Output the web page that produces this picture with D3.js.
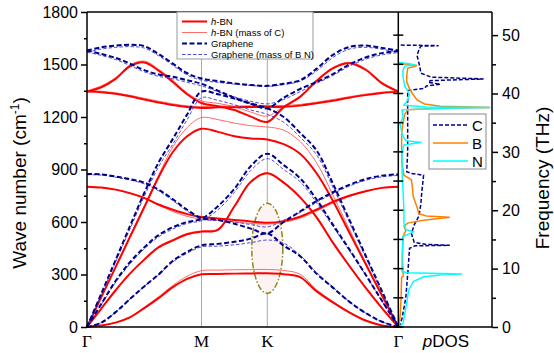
<!DOCTYPE html>
<html>
<head>
<meta charset="utf-8">
<script src="https://cdn.jsdelivr.net/npm/d3@7"></script>
<style>
  body { margin: 0; background: #fff; }
  svg { display: block; }
  text { font-family: "Liberation Sans", Arial, sans-serif; }
</style>
</head>
<body>
<svg id="chart" width="554" height="353"></svg>
<script>
// path coordinate along Γ-M-K-Γ (ΓM = 1)
const kPts = [0, 0.125, 0.25, 0.375, 0.5, 0.625, 0.75, 0.875, 1,
  1.144, 1.289, 1.433, 1.577,
  1.721, 1.866, 2.010, 2.155, 2.299, 2.443, 2.588, 2.732]
const kLabels = ['Γ', 'M', 'K', 'Γ']
const kLabelPos = [0, 1, 1.577, 2.732]

// h-BN (cm-1)
const bnZA = [0, 8, 25, 55, 108, 165, 228, 275, 301, 303, 305, 306, 307, 302, 285, 205, 141, 84, 37, 9, 0]
const bnTA = [0, 105, 210, 305, 385, 455, 495, 530, 545, 555, 690, 830, 878, 825, 741, 628, 482, 350, 225, 108, 0]
const bnZO = [802, 797, 785, 765, 738, 700, 670, 645, 628, 620, 612, 603, 596, 605, 630, 670, 715, 750, 776, 795, 802]
const bnLA = [0, 171, 342, 514, 684, 856, 1000, 1090, 1133, 1115, 1090, 1077, 1072, 1045, 990, 880, 722, 541, 361, 180, 0]
const bnLO = [1345, 1370, 1418, 1490, 1512, 1465, 1400, 1330, 1280, 1262, 1240, 1202, 1172, 1255, 1315, 1405, 1478, 1507, 1470, 1392, 1345]
const bnTO = [1345, 1342, 1333, 1318, 1300, 1283, 1268, 1257, 1252, 1255, 1256, 1257, 1258, 1258, 1265, 1278, 1293, 1310, 1325, 1337, 1345]

// h-BN with the mass of C
const bnZAc = [0, 8, 26, 58, 112, 173, 238, 290, 322, 325, 327, 328, 329, 323, 302, 214, 146, 86, 38, 9, 0]
const bnTAc = [0, 106, 212, 308, 389, 460, 500, 535, 550, 560, 693, 832, 880, 827, 744, 632, 486, 353, 228, 110, 0]
const bnZOc = [802, 797, 785, 763, 735, 695, 660, 632, 617, 610, 600, 592, 588, 598, 622, 662, 708, 745, 773, 794, 802]
const bnLAc = [0, 173, 346, 520, 692, 866, 1030, 1140, 1197, 1185, 1165, 1150, 1143, 1125, 1060, 940, 755, 560, 370, 185, 0]
const bnLOc = [1350, 1378, 1425, 1497, 1520, 1473, 1410, 1338, 1292, 1278, 1258, 1228, 1205, 1262, 1320, 1410, 1483, 1513, 1477, 1398, 1350]
const bnTOc = [1350, 1347, 1338, 1324, 1307, 1290, 1275, 1264, 1260, 1262, 1263, 1264, 1266, 1266, 1272, 1285, 1300, 1316, 1331, 1342, 1350]

// graphene
const grZA = [0, 25, 85, 160, 232, 300, 378, 430, 466, 475, 487, 505, 535, 465, 405, 305, 225, 145, 80, 30, 0]
const grTA = [0, 132, 263, 370, 455, 525, 570, 600, 618, 690, 790, 920, 990, 925, 850, 730, 585, 445, 300, 150, 0]
const grZO = [874, 872, 860, 845, 825, 785, 730, 670, 622, 612, 590, 562, 535, 600, 660, 720, 770, 812, 845, 865, 872]
const grLA = [0, 191, 383, 576, 766, 940, 1075, 1215, 1345, 1330, 1305, 1278, 1250, 1200, 1110, 1010, 820, 615, 410, 205, 0]
const grLO = [1580, 1560, 1538, 1505, 1468, 1443, 1430, 1410, 1390, 1350, 1310, 1275, 1250, 1310, 1360, 1400, 1445, 1500, 1540, 1565, 1577]
const grTO = [1580, 1598, 1608, 1613, 1605, 1560, 1505, 1450, 1420, 1405, 1392, 1383, 1378, 1390, 1410, 1475, 1555, 1600, 1608, 1595, 1580]

// graphene with the masses of B and N
const grZAb = [0, 25, 85, 160, 232, 298, 372, 422, 458, 462, 470, 482, 497, 480, 410, 312, 228, 146, 80, 30, 0]
const grTAb = [0, 128, 255, 360, 446, 515, 560, 592, 608, 670, 770, 895, 962, 900, 830, 712, 575, 438, 298, 148, 0]
const grZOb = [870, 868, 856, 840, 818, 778, 722, 662, 615, 610, 600, 585, 572, 610, 655, 712, 762, 805, 838, 858, 866]
const grLAb = [0, 186, 372, 560, 746, 915, 1045, 1185, 1310, 1295, 1270, 1240, 1215, 1170, 1085, 985, 800, 600, 400, 200, 0]
const grLOb = [1570, 1552, 1528, 1494, 1458, 1432, 1418, 1398, 1378, 1345, 1315, 1290, 1275, 1300, 1345, 1392, 1437, 1490, 1530, 1555, 1568]
const grTOb = [1570, 1588, 1598, 1602, 1594, 1550, 1495, 1440, 1410, 1398, 1388, 1380, 1375, 1385, 1405, 1462, 1540, 1588, 1598, 1587, 1570]

// pDOS: [frequency THz, dos (arb.)]
const dosC = [[0, 0.01], [1.5, 0.04], [5, 0.08], [10, 0.105], [13.5, 0.12], [13.9, 0.18], [14.0, 0.55], [14.15, 0.3], [14.5, 0.17],
  [16, 0.14], [17.5, 0.17], [19, 0.22], [21, 0.24], [23, 0.25], [24.5, 0.26], [26, 0.27], [26.3, 0.14], [26.6, 0.09],
  [30, 0.1], [33, 0.1], [36, 0.1], [39, 0.1], [40.5, 0.1], [40.9, 0.28], [41.3, 0.3], [41.6, 0.45], [41.9, 0.32],
  [42.2, 0.34], [42.5, 0.91], [42.8, 0.35], [43.5, 0.24], [44.6, 0.23], [46.5, 0.2], [47.5, 0.22], [48.1, 0.24],
  [48.2, 0.43], [48.3, 0]]
const dosB = [[0, 0.005], [2, 0.02], [5, 0.03], [8.5, 0.035], [8.8, 0.055], [9.3, 0.05], [12, 0.045], [15.5, 0.05],
  [16.5, 0.08], [17.3, 0.06], [17.8, 0.1], [18.3, 0.27], [18.8, 0.55], [19.0, 0.3], [19.4, 0.22], [20.5, 0.2],
  [22.3, 0.16], [24, 0.15], [25.2, 0.14], [26, 0.06], [28, 0.04], [31, 0.035], [33.2, 0.036], [35, 0.05],
  [36.5, 0.07], [37.2, 0.1], [37.5, 0.5], [37.6, 0.98], [37.8, 0.45], [38.2, 0.28], [38.9, 0.2], [40, 0.15],
  [40.8, 0.12], [42, 0.09], [43, 0.09], [44.3, 0.1], [44.8, 0.2], [45.0, 0.12], [45.1, 0]]
const dosN = [[0, 0.005], [0.6, 0.05], [4.1, 0.09], [6.3, 0.11], [7.8, 0.16], [8.6, 0.27], [9.0, 0.5], [9.1, 0.68],
  [9.3, 0.1], [9.5, 0.04], [12, 0.04], [15.5, 0.05], [16.0, 0.12], [16.3, 0.16], [16.7, 0.08], [17.8, 0.06],
  [20, 0.06], [23.4, 0.05], [26.6, 0.04], [30, 0.04], [31.2, 0.06], [31.6, 0.25], [31.9, 0.08], [33, 0.04],
  [34.8, 0.02], [36, 0.05], [37.2, 0.04], [37.5, 0.6], [37.6, 0.98], [37.7, 0.3], [38, 0.06], [38.6, 0.09],
  [39.8, 0.12], [40.5, 0.1], [41.2, 0.07], [42.9, 0.05], [44.0, 0.05], [44.7, 0.07], [44.9, 0.18], [45.2, 0.08], [45.3, 0]]

const yMajor = [0, 300, 600, 900, 1200, 1500, 1800]
const yMinor = [150, 450, 750, 1050, 1350, 1650]
const fMajor = [0, 10, 20, 30, 40, 50]
const fMinor = [5, 15, 25, 35, 45]
const ellipseSpan = [193, 707] // cm-1 at K

/* ---------- scales ---------- */
const plotL = 87, plotR = 492, plotT = 12, plotB = 327, divX = 398.3
const svg = d3.select('#chart')
const x = d3.scaleLinear().domain(kLabelPos).range([plotL, 201.5, 267.3, divX])
const y = d3.scaleLinear().domain([0, 1800]).range([plotB, plotT])
const yTHz = d3.scaleLinear().domain([0, 1800 / 33.356]).range([plotB, plotT])
const xDos = d3.scaleLinear().domain([0, 1]).range([divX, plotR])

/* ---------- guide lines + ellipse ---------- */
kLabelPos.slice(1, 3).forEach(k => {
  svg.append('line')
    .attr('x1', x(k)).attr('x2', x(k))
    .attr('y1', plotT).attr('y2', plotB)
    .attr('stroke', '#a8a8a8').attr('stroke-width', 1)
})

svg.append('ellipse')
  .attr('cx', x(1.577))
  .attr('cy', y((ellipseSpan[0] + ellipseSpan[1]) / 2))
  .attr('rx', 15.5)
  .attr('ry', (y(ellipseSpan[0]) - y(ellipseSpan[1])) / 2)
  .attr('fill', '#fef3f3')
  .attr('stroke', '#8a8a1a')
  .attr('stroke-width', 1.5)
  .attr('stroke-dasharray', '6,2,1.5,2')

/* ---------- dispersion ---------- */
const band = d3.line()
  .x((d, i) => x(kPts[i]))
  .y(d => y(d))
  .curve(d3.curveCatmullRom.alpha(0.5))

const groups = [
  { bands: [bnZAc, bnTAc, bnZOc, bnLAc, bnLOc, bnTOc], color: '#ff5a5a', width: 0.9, dash: null },
  { bands: [bnZA, bnTA, bnZO, bnLA, bnLO, bnTO], color: '#ff0000', width: 2, dash: null },
  { bands: [grZAb, grTAb, grZOb, grLAb, grLOb, grTOb], color: '#3a3ad0', width: 0.9, dash: '3.5,2' },
  { bands: [grZA, grTA, grZO, grLA, grLO, grTO], color: '#00008b', width: 2, dash: '5,2.5' }
]

groups.forEach(grp => {
  grp.bands.forEach(b => {
    svg.append('path')
      .datum(b)
      .attr('d', band)
      .attr('fill', 'none')
      .attr('stroke', grp.color)
      .attr('stroke-width', grp.width)
      .attr('stroke-dasharray', grp.dash)
  })
})

/* ---------- pDOS ---------- */
const dosLine = d3.line()
  .x(d => xDos(d[1]))
  .y(d => yTHz(d[0]))

const dosSeries = [
  { data: dosC, color: '#00008b', width: 1.5, dash: '4,2', name: 'C' },
  { data: dosB, color: '#ff8000', width: 1.5, dash: null, name: 'B' },
  { data: dosN, color: '#00ffff', width: 1.5, dash: null, name: 'N' }
]

dosSeries.forEach(s => {
  svg.append('path')
    .datum(s.data)
    .attr('d', dosLine)
    .attr('fill', 'none')
    .attr('stroke', s.color)
    .attr('stroke-width', s.width)
    .attr('stroke-dasharray', s.dash)
})

/* ---------- frame ---------- */
const frame = [[plotL, plotT, plotR, plotT], [plotL, plotB, plotR, plotB], [plotL, plotT, plotL, plotB],
  [plotR, plotT, plotR, plotB], [divX, plotT, divX, plotB]]
frame.forEach(([x1, y1, x2, y2]) => {
  svg.append('line').attr('x1', x1).attr('y1', y1).attr('x2', x2).attr('y2', y2)
    .attr('stroke', '#000').attr('stroke-width', 1.5)
})

// left axis
svg.append('g')
  .attr('transform', `translate(${plotL},0)`)
  .call(d3.axisLeft(y).tickValues(yMajor).tickSize(6).tickPadding(3).tickFormat(d3.format('d')))
  .call(g => g.select('.domain').remove())
  .call(g => g.selectAll('line').attr('stroke-width', 1.5))
  .call(g => g.selectAll('text').attr('font-family', 'Liberation Sans, Arial, sans-serif').style('font-size', '16px'))

svg.append('g')
  .attr('transform', `translate(${plotL},0)`)
  .call(d3.axisLeft(y).tickValues(yMinor).tickSize(3).tickFormat(''))
  .call(g => g.select('.domain').remove())
  .call(g => g.selectAll('line').attr('stroke-width', 1.5))

// right axis
svg.append('g')
  .attr('transform', `translate(${plotR},0)`)
  .call(d3.axisRight(yTHz).tickValues(fMajor).tickSize(6).tickPadding(4).tickFormat(d3.format('d')))
  .call(g => g.select('.domain').remove())
  .call(g => g.selectAll('line').attr('stroke-width', 1.5))
  .call(g => g.selectAll('text').attr('font-family', 'Liberation Sans, Arial, sans-serif').style('font-size', '16px'))

svg.append('g')
  .attr('transform', `translate(${plotR},0)`)
  .call(d3.axisRight(yTHz).tickValues(fMinor).tickSize(4).tickFormat(''))
  .call(g => g.select('.domain').remove())
  .call(g => g.selectAll('line').attr('stroke-width', 1.5))

// crossing ticks on the divider
fMajor.concat(fMinor).forEach(f => {
  svg.append('line')
    .attr('x1', divX - 5).attr('x2', divX + 5)
    .attr('y1', yTHz(f)).attr('y2', yTHz(f))
    .attr('stroke', '#000').attr('stroke-width', 1.5)
})

/* ---------- labels ---------- */
kLabels.forEach((t, i) => {
  svg.append('text')
    .attr('x', x(kLabelPos[i]))
    .attr('y', 347)
    .attr('text-anchor', 'middle')
    .style('font-family', 'Liberation Serif, Times New Roman, serif')
    .style('font-size', '17px')
    .text(t)
})

const pdos = svg.append('text')
  .attr('x', 446).attr('y', 347)
  .attr('text-anchor', 'middle')
  .style('font-size', '17px')
pdos.append('tspan').style('font-style', 'italic').text('p')
pdos.append('tspan').text('DOS')

const yTitle = svg.append('text')
  .attr('transform', 'translate(26,183) rotate(-90)')
  .attr('text-anchor', 'middle')
  .style('font-size', '19px')
yTitle.append('tspan').text('Wave number (cm')
yTitle.append('tspan').attr('dy', -7).style('font-size', '12px').text('-1')
yTitle.append('tspan').attr('dy', 7).text(')')

svg.append('text')
  .attr('transform', 'translate(549,178) rotate(-90)')
  .attr('text-anchor', 'middle')
  .style('font-size', '19px')
  .text('Frequency (THz)')

/* ---------- legends ---------- */
svg.append('rect')
  .attr('x', 177).attr('y', plotT).attr('width', 136).attr('height', 47)
  .attr('fill', '#fff').attr('stroke', '#999').attr('stroke-width', 1)

const legItems = [
  { label: ['h', '-BN'], color: '#ff0000', width: 2, dash: null },
  { label: ['h', '-BN (mass of C)'], color: '#ff5a5a', width: 0.9, dash: null },
  { label: ['', 'Graphene'], color: '#00008b', width: 2, dash: '5,2.5' },
  { label: ['', 'Graphene (mass of B N)'], color: '#3a3ad0', width: 0.9, dash: '3.5,2' }
]
legItems.forEach((d, i) => {
  const yy = 21.5 + i * 11
  svg.append('line')
    .attr('x1', 182).attr('x2', 207).attr('y1', yy).attr('y2', yy)
    .attr('stroke', d.color).attr('stroke-width', d.width).attr('stroke-dasharray', d.dash)
  const t = svg.append('text').attr('x', 211).attr('y', yy + 3.3).style('font-size', '9.5px')
  if (d.label[0]) t.append('tspan').style('font-style', 'italic').text(d.label[0])
  t.append('tspan').text(d.label[1])
})

svg.append('rect')
  .attr('x', 429).attr('y', 114).attr('width', 57).attr('height', 55)
  .attr('fill', '#fff').attr('stroke', '#888').attr('stroke-width', 1)

dosSeries.forEach((s, i) => {
  const yy = 125 + i * 18
  svg.append('line')
    .attr('x1', 433).attr('x2', 468).attr('y1', yy).attr('y2', yy)
    .attr('stroke', s.color).attr('stroke-width', s.width).attr('stroke-dasharray', s.dash)
  svg.append('text')
    .attr('x', 472).attr('y', yy + 5.5)
    .style('font-size', '15px')
    .text(s.name)
})
</script>
</body>
</html>
